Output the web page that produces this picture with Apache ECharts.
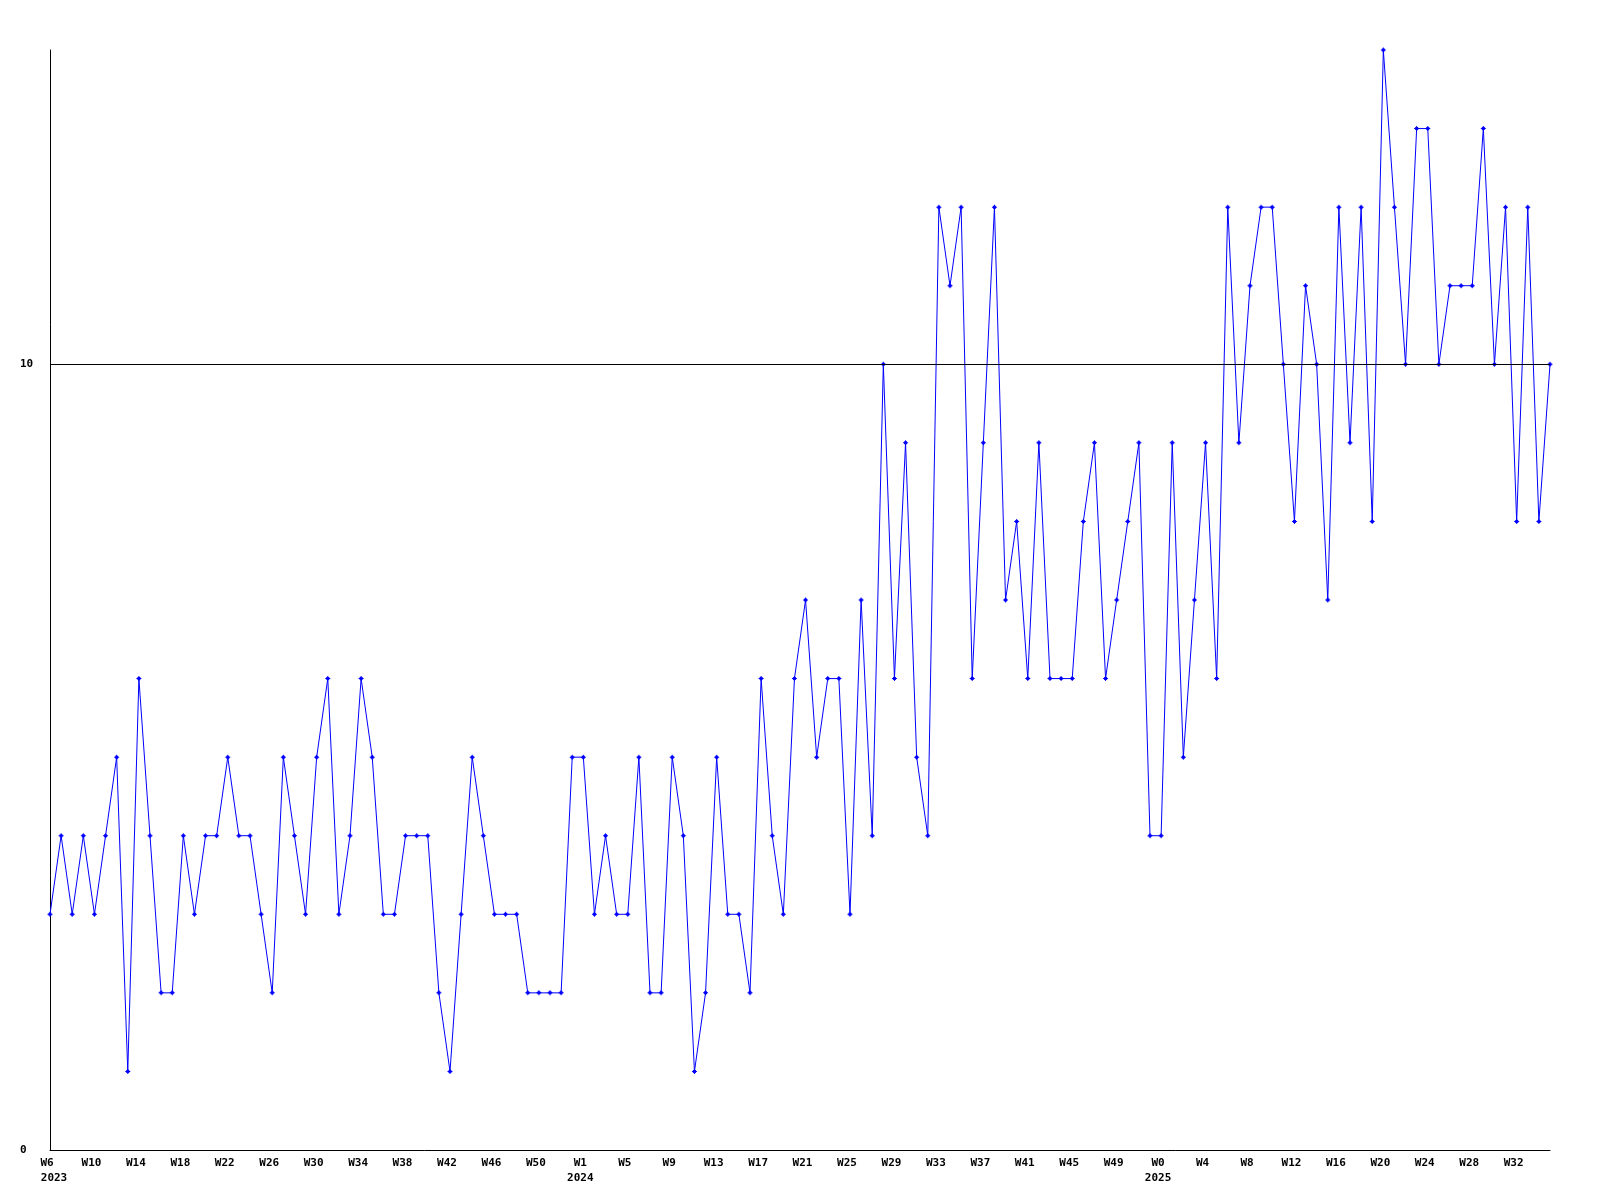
<!DOCTYPE html>
<html>
<head>
<meta charset="utf-8">
<script src="https://cdn.jsdelivr.net/npm/echarts@6/dist/echarts.min.js"></script>
<style>
html,body{margin:0;padding:0;background:#fff;}
#chart{width:1600px;height:1200px;}
</style>
</head>
<body>
<div id="chart"></div>
<script>
// Week numbers per year (as labelled on the axis)
const weeks2023 = [6,7,8,9,10,11,12,13,14,15,16,17,18,19,20,21,22,23,24,25,26,27,28,29,30,31,32,33,34,35,36,37,38,39,40,41,42,43,44,45,46,47,48,49,50,51,52,53];
const weeks2024 = [1,2,3,4,5,6,7,8,9,10,11,12,13,14,15,16,17,18,19,20,21,22,23,24,25,26,27,28,29,30,31,32,33,34,35,36,37,38,39,40,41,42,43,44,45,46,47,48,49,50,51,52];
const weeks2025 = [0,1,2,3,4,5,6,7,8,9,10,11,12,13,14,15,16,17,18,19,20,21,22,23,24,25,26,27,28,29,30,31,32,33,34,35];

// Weekly values
const values2023 = [3,4,3,4,3,4,5,1,6,4,2,2,4,3,4,4,5,4,4,3,2,5,4,3,5,6,3,4,6,5,3,3,4,4,4,2,1,3,5,4,3,3,3,2,2,2,2,5];
const values2024 = [5,3,4,3,3,5,2,2,5,4,1,2,5,3,3,2,6,4,3,6,7,5,6,6,3,7,4,10,6,9,5,4,12,11,12,6,9,12,7,8,6,9,6,6,6,8,9,6,7,8,9,4];
const values2025 = [4,9,5,7,9,6,12,9,11,12,12,10,8,11,10,7,12,9,12,8,14,12,10,13,13,10,11,11,11,13,10,12,8,12,8,10];

// Y axis tick labels
const yTickLabels = [0, 10];
const refLine = 10;

const categories = [];
const catYears = [];
const catWeeks = [];
[[2023, weeks2023], [2024, weeks2024], [2025, weeks2025]].forEach(([y, ws]) => {
  ws.forEach(w => { categories.push(y + '-W' + w); catYears.push(y); catWeeks.push(w); });
});
const values = values2023.concat(values2024, values2025);

const chart = echarts.init(document.getElementById('chart'), null, {renderer: 'canvas'});
const fontFamily = '"DejaVu Sans Mono", "Liberation Mono", monospace';
const labelFont = {color: '#000', fontFamily: fontFamily, fontWeight: 'bold', fontSize: 11, lineHeight: 15};

chart.setOption({
  animation: false,
  backgroundColor: '#ffffff',
  grid: {left: 50, right: 50, top: 50, bottom: 50, containLabel: false},
  xAxis: {
    type: 'category',
    data: categories,
    boundaryGap: false,
    axisLine: {show: true, lineStyle: {color: '#000', width: 1}},
    axisTick: {show: false},
    splitLine: {show: false},
    axisLabel: Object.assign({
      interval: 3,
      margin: 6,
      padding: [0, 6, 0, 0],
      rich: {
        y0: Object.assign({padding: [0, 0, 0, 14]}, labelFont),
        y: Object.assign({}, labelFont)
      },
      formatter: function (val, idx) {
        let s = 'W' + catWeeks[idx];
        if (idx === 0) s += '\n{y0|' + catYears[idx] + '}';
        else if (catYears[idx] !== catYears[idx - 4]) s += '\n' + catYears[idx];
        return s;
      }
    }, labelFont)
  },
  yAxis: {
    type: 'value',
    min: 0,
    max: 14,
    interval: 10,
    axisLine: {show: true, lineStyle: {color: '#000', width: 1}},
    axisTick: {show: false},
    splitLine: {show: false},
    axisLabel: {
      showMaxLabel: false,
      align: 'left',
      margin: 30,
      color: '#000',
      fontFamily: fontFamily,
      fontWeight: 'bold',
      fontSize: 11,
      formatter: function (v) { return yTickLabels.indexOf(v) >= 0 ? String(v) : ''; }
    }
  },
  series: [{
    type: 'line',
    data: values,
    symbol: 'path://M2,0H3V1H4V2H5V3H4V4H3V5H2V4H1V3H0V2H1V1H2Z',
    symbolSize: 5,
    showAllSymbol: true,
    lineStyle: {color: '#0000ff', width: 1},
    itemStyle: {color: '#0000ff'},
    markLine: {
      silent: true,
      symbol: 'none',
      label: {show: false},
      lineStyle: {color: '#000', width: 1, type: 'solid'},
      data: [{yAxis: refLine}]
    }
  }]
});
</script>
</body>
</html>
